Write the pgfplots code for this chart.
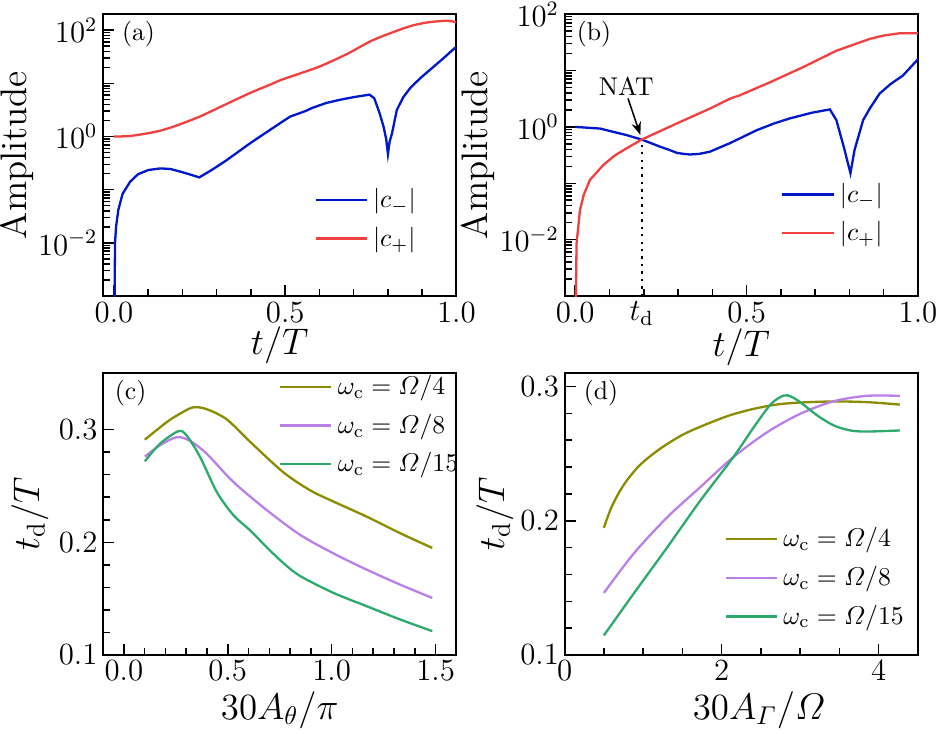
\documentclass[border=0pt]{standalone}
\usepackage{amsmath}
\usepackage{pgfplots}
\pgfplotsset{compat=1.18}
\usetikzlibrary{arrows.meta}
\definecolor{cblue}{RGB}{0,24,204}
\definecolor{cred}{RGB}{240,64,64}
\definecolor{colive}{RGB}{140,140,0}
\definecolor{cviolet}{RGB}{185,128,232}
\definecolor{cgreen}{RGB}{46,170,110}
\pgfplotsset{
  panel/.style={
    scale only axis, width=137.5pt, height=109.7pt,
    tick align=inside, tick pos=left,
    axis line style={line width=0.8pt},
    tick style={line width=0.6pt, black},
    tick label style={font=\large, inner sep=2pt},
    xticklabel style={font=\large, inner sep=2pt},
    yticklabel style={font=\large, inner sep=2pt},
    label style={font=\Large, inner sep=0pt},
    legend cell align=left,
    legend image code/.code={\draw[##1, line width=0.9pt] (0cm,0cm) -- (0.7cm,0cm);},
    every axis plot/.append style={line width=0.9pt},
    clip=true,
  },
  onedec/.style={/pgf/number format/.cd, fixed, fixed zerofill, precision=1},
}
\begin{document}
\begin{tikzpicture}
% ---------------- (a)
\begin{axis}[panel, at={(0,0)}, anchor=south west,
  xmin=-0.032, xmax=1.0, ymode=log, ymin=1e-3, ymax=200,
  xtick={0,0.5,1}, xticklabels={0.0,0.5,1.0}, minor x tick num=4,
  ytick={0.01,1,100}, yticklabels={$10^{-2}$,$10^{0}$,$10^{2}$},
  extra y ticks={0.1,10}, extra y tick labels={},
  minor ytick={0.002,0.003,0.004,0.005,0.006,0.007,0.008,0.009,0.02,0.03,0.04,0.05,0.06,0.07,0.08,0.09,0.2,0.3,0.4,0.5,0.6,0.7,0.8,0.9,2,3,4,5,6,7,8,9,20,30,40,50,60,70,80,90,200},
  xlabel={$t/T$}, ylabel={Amplitude},
  xlabel style={at={(axis description cs:0.5,-0.176)}, anchor=center},
  ylabel style={at={(axis description cs:-0.245,0.5)}, anchor=center},
  legend style={draw=none, fill=none, at={(0.575,0.42)}, anchor=north west, font=\normalsize, row sep=2pt},
]
\addplot[cblue] coordinates {(0.0015,0.00063) (0.003,0.01) (0.006,0.02) (0.0126,0.0417) (0.025,0.0832) (0.047,0.141) (0.07,0.195) (0.10,0.234) (0.135,0.251) (0.165,0.245) (0.193,0.219) (0.22,0.195) (0.249,0.170) (0.29,0.245) (0.33,0.363) (0.398,0.750) (0.456,1.337) (0.485,1.778) (0.515,2.38) (0.53,2.57) (0.56,3.02) (0.58,3.47) (0.62,4.27) (0.66,4.90) (0.70,5.50) (0.746,6.12) (0.76,5.25) (0.775,2.82) (0.787,1.55) (0.795,0.891) (0.80,0.468) (0.805,0.80) (0.812,1.148) (0.826,3.16) (0.845,5.5) (0.865,8.13) (0.895,12.6) (0.924,18.2) (0.96,28.8) (1.0,49)};
\addlegendentry{$|c_{-}|$}
\addplot[cred, smooth] coordinates {(0,1) (0.05,1.028) (0.125,1.242) (0.18,1.585) (0.251,2.38) (0.32,3.85) (0.398,6.61) (0.456,9.44) (0.485,11.4) (0.54,15.1) (0.602,20.9) (0.68,35.5) (0.749,61.7) (0.81,89.1) (0.865,118.9) (0.91,138) (0.953,148) (0.975,150) (1.0,141)};
\addlegendentry{$|c_{+}|$}
\node[anchor=north west, inner sep=1pt] at (rel axis cs:0.045,0.985) {(a)};
\end{axis}
% ---------------- (b)
\begin{axis}[panel, at={(179.6pt,0)}, anchor=south west,
  xmin=-0.031, xmax=1.0, ymode=log, ymin=1e-3, ymax=100,
  xtick={0,0.5,1}, xticklabels={0.0,0.5,1.0}, minor x tick num=4,
  extra x ticks={0.194}, extra x tick labels={$t_{\mathrm{d}}$}, extra x tick style={major tick length=0pt},
  ytick={0.01,1,100}, yticklabels={$10^{-2}$,$10^{0}$,$10^{2}$},
  extra y ticks={0.1,10}, extra y tick labels={},
  minor ytick={0.002,0.003,0.004,0.005,0.006,0.007,0.008,0.009,0.02,0.03,0.04,0.05,0.06,0.07,0.08,0.09,0.2,0.3,0.4,0.5,0.6,0.7,0.8,0.9,2,3,4,5,6,7,8,9,20,30,40,50,60,70,80,90},
  xlabel={$t/T$}, ylabel={Amplitude},
  xlabel style={at={(axis description cs:0.5,-0.18)}, anchor=center},
  ylabel style={at={(axis description cs:-0.245,0.5)}, anchor=center},
  legend style={draw=none, fill=none, at={(0.59,0.44)}, anchor=north west, font=\normalsize, row sep=2pt},
]
\addplot[cblue] coordinates {(0,1.0) (0.073,0.933) (0.15,0.714) (0.194,0.596) (0.247,0.447) (0.275,0.39) (0.296,0.347) (0.315,0.333) (0.334,0.324) (0.36,0.331) (0.393,0.363) (0.42,0.427) (0.451,0.513) (0.48,0.624) (0.529,0.871) (0.58,1.15) (0.626,1.413) (0.69,1.78) (0.743,2.04) (0.762,1.318) (0.786,0.389) (0.803,0.151) (0.815,0.389) (0.84,1.318) (0.86,2.14) (0.888,3.89) (0.92,5.75) (0.956,8.13) (1.0,15.8)};
\addlegendentry{$|c_{-}|$}
\addplot[cred] coordinates {(0.0005,0.0003) (0.004,0.0087) (0.014,0.0339) (0.025,0.063) (0.043,0.115) (0.082,0.211) (0.115,0.31) (0.15,0.417) (0.194,0.596) (0.296,1.148) (0.393,2.11) (0.451,3.16) (0.48,3.63) (0.568,6.17) (0.665,11.5) (0.762,22.4) (0.859,36.3) (0.90,41.7) (0.946,45.7) (1.0,45.7)};
\addlegendentry{$|c_{+}|$}
\addplot[black, dotted, line width=0.8pt, forget plot] coordinates {(0.194,0.001) (0.194,0.596)};
\draw[-{Stealth[length=5pt]}, line width=0.6pt] (axis cs:0.154,3.2) -- (axis cs:0.19,0.72);
\node[font=\normalsize] at (axis cs:0.149,5.2) {NAT};
\node[anchor=north west, inner sep=1pt] at (rel axis cs:0.026,0.985) {(b)};
\end{axis}
% ---------------- (c)
\begin{axis}[panel, at={(0,-139.7pt)}, anchor=south west,
  xmin=-0.1, xmax=1.6, ymin=0.1, ymax=0.35,
  xtick={0,0.5,1,1.5}, minor x tick num=4,
  ytick={0.1,0.2,0.3}, minor y tick num=4,
  xticklabel style={onedec}, yticklabel style={onedec},
  xlabel={$30A_{\theta}/\pi$}, ylabel={$t_{\mathrm{d}}/T$},
  xlabel style={at={(axis description cs:0.5,-0.195)}, anchor=center},
  ylabel style={at={(axis description cs:-0.207,0.5)}, anchor=center},
  legend style={draw=none, fill=none, at={(0.475,1.03)}, anchor=north west, font=\normalsize, row sep=2pt},
]
\addplot[colive, smooth] coordinates {(0.101,0.291) (0.206,0.3065) (0.27,0.314) (0.334,0.3197) (0.399,0.318) (0.495,0.309) (0.608,0.289) (0.768,0.262) (0.897,0.246) (1.01,0.236) (1.17,0.2226) (1.33,0.208) (1.484,0.195)};
\addlegendentry{$\omega_{\mathrm{c}}=\varOmega/4$}
\addplot[cviolet, smooth] coordinates {(0.101,0.276) (0.174,0.286) (0.254,0.2932) (0.318,0.290) (0.399,0.2785) (0.527,0.2535) (0.688,0.2285) (0.849,0.2065) (1.01,0.190) (1.17,0.1756) (1.33,0.1624) (1.484,0.1506)};
\addlegendentry{$\omega_{\mathrm{c}}=\varOmega/8$}
\addplot[cgreen, smooth, tension=0.5] coordinates {(0.101,0.2718) (0.174,0.2874) (0.262,0.2985) (0.302,0.2947) (0.367,0.2756) (0.447,0.2447) (0.527,0.2241) (0.608,0.2105) (0.688,0.1955) (0.768,0.1815) (0.849,0.170) (1.01,0.155) (1.17,0.1432) (1.33,0.1315) (1.484,0.1212)};
\addlegendentry{$\omega_{\mathrm{c}}=\varOmega/15$}
\node[anchor=north west, inner sep=1pt] at (rel axis cs:0.025,0.985) {(c)};
\end{axis}
% ---------------- (d)
\begin{axis}[panel, at={(179.6pt,-139.7pt)}, anchor=south west,
  xmin=0, xmax=4.5, ymin=0.1, ymax=0.31,
  xtick={0,2,4}, minor x tick num=3,
  ytick={0.1,0.2,0.3}, minor y tick num=4,
  yticklabel style={onedec},
  xlabel={$30A_{\varGamma}/\varOmega$}, ylabel={$t_{\mathrm{d}}/T$},
  xlabel style={at={(axis description cs:0.55,-0.195)}, anchor=center},
  ylabel style={at={(axis description cs:-0.197,0.5)}, anchor=center},
  legend style={draw=none, fill=none, at={(0.43,0.49)}, anchor=north west, font=\normalsize, row sep=2pt},
]
\addplot[colive, smooth] coordinates {(0.5,0.1947) (0.6,0.2105) (0.75,0.2265) (0.95,0.2410) (1.2,0.2530) (1.5,0.2640) (1.8,0.2718) (2.1,0.2785) (2.4,0.2833) (2.7,0.2866) (3.0,0.2881) (3.43,0.2889) (3.85,0.2884) (4.27,0.2866)};
\addlegendentry{$\omega_{\mathrm{c}}=\varOmega/4$}
\addplot[cviolet, smooth, tension=0.5] coordinates {(0.5,0.1463) (0.88,0.1756) (1.31,0.2028) (1.73,0.2252) (2.15,0.2475) (2.58,0.266) (3.0,0.2797) (3.43,0.2891) (3.85,0.2931) (4.27,0.2931)};
\addlegendentry{$\omega_{\mathrm{c}}=\varOmega/8$}
\addplot[cgreen, smooth, tension=0.5] coordinates {(0.5,0.1146) (0.88,0.1458) (1.31,0.1805) (1.73,0.2152) (2.15,0.2475) (2.41,0.2698) (2.63,0.2871) (2.79,0.2933) (2.88,0.2926) (3.0,0.2884) (3.22,0.2784) (3.43,0.271) (3.64,0.2673) (3.85,0.2665) (4.27,0.2673)};
\addlegendentry{$\omega_{\mathrm{c}}=\varOmega/15$}
\node[anchor=north west, inner sep=1pt] at (rel axis cs:0.046,0.985) {(d)};
\end{axis}
\pgfresetboundingbox
\path[use as bounding box] (-40.1pt,-170.4pt) rectangle (324.9pt,115.2pt);
\end{tikzpicture}
\end{document}
